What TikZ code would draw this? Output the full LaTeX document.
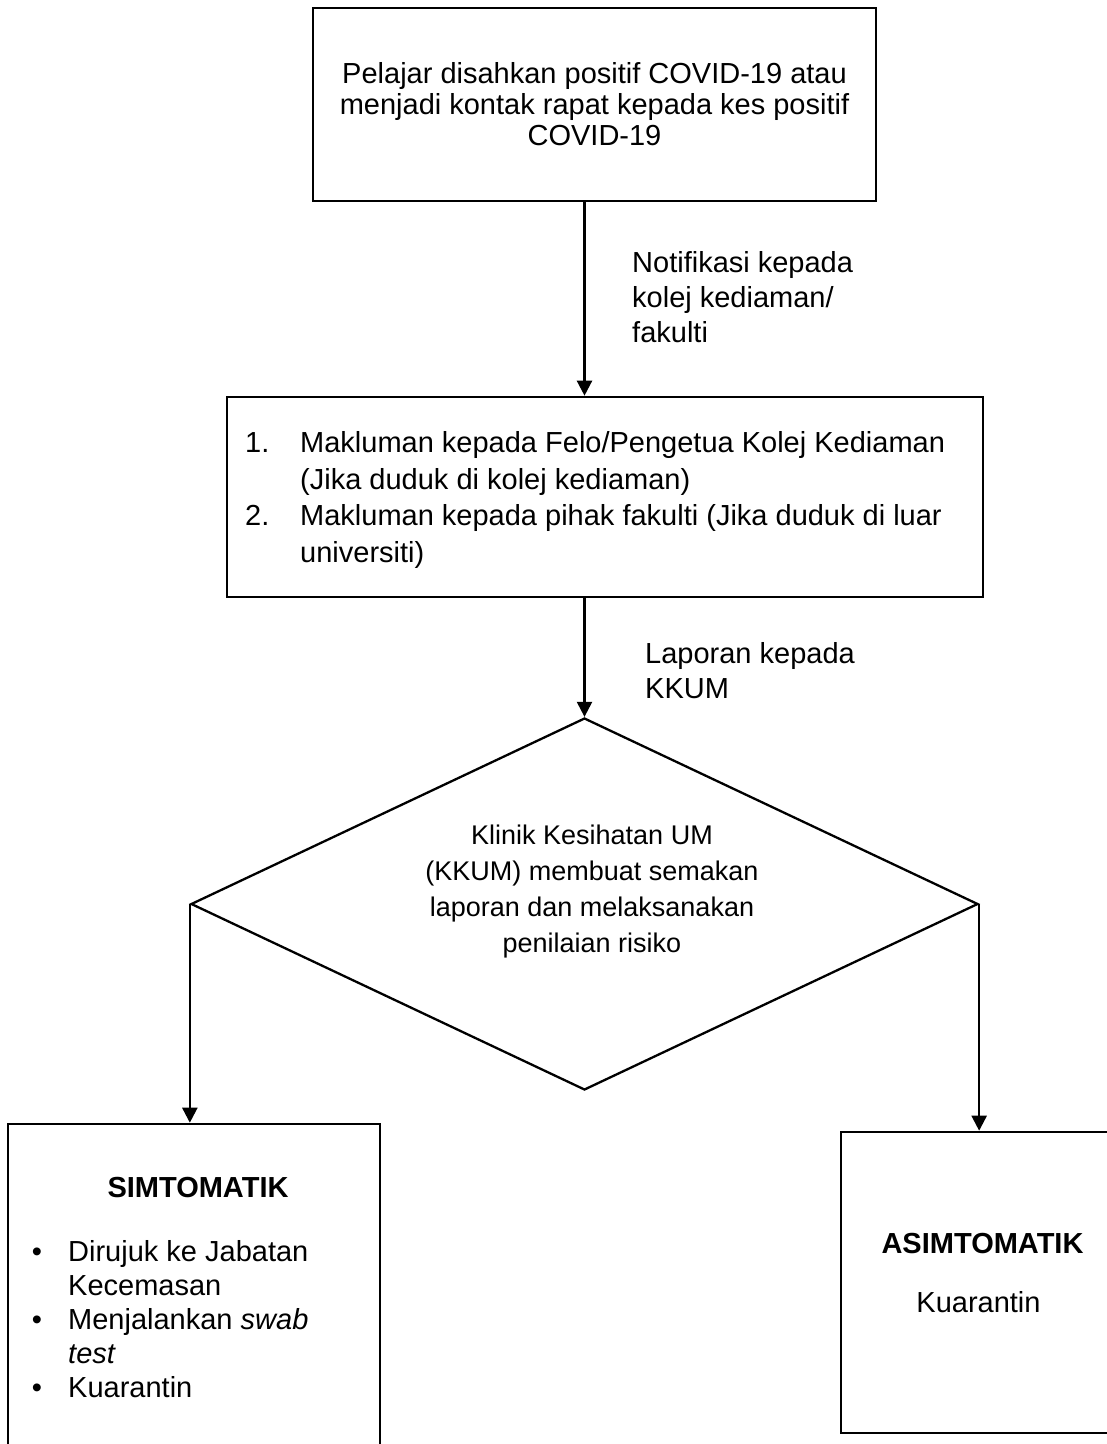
\documentclass[tikz,border=0pt]{standalone}
\usepackage{fontspec}
\setmainfont{Liberation Sans}
\usetikzlibrary{arrows.meta,shapes.geometric}
\begin{document}
\begin{tikzpicture}[x=1pt,y=-1pt,
  box/.style={draw, line width=2.6pt, rectangle, inner sep=0pt},
  arr/.style={line width=2.3pt, -{Triangle[length=15pt,width=15pt]}},
  txt/.style={font=\fontsize{29}{36.5}\selectfont, inner sep=0pt},
  lbl/.style={font=\fontsize{29}{35}\selectfont, inner sep=0pt, align=left, anchor=north west},
]
\useasboundingbox (0,0) rectangle (1107,1444);
\clip (0,0) rectangle (1107,1444);
\fill[white] (0,0) rectangle (1107,1444);

% top box
\node[box, minimum width=563pt, minimum height=193pt, align=center,
      font=\fontsize{29}{31}\selectfont] (top) at (594.5,104.5)
  {Pelajar disahkan positif COVID-19 atau\\menjadi kontak rapat kepada kes positif\\COVID-19};

% second box
\node[box, minimum width=756pt, minimum height=200pt] (b2) at (605,497) {};
\node[txt, anchor=base west] (n1) at (245,452.5) {1.};
\node[txt, anchor=base west] (l1a) at (300,452.5) {Makluman kepada Felo/Pengetua Kolej Kediaman};
\node[txt, anchor=base west] (l1b) at (300,489) {(Jika duduk di kolej kediaman)};
\node[txt, anchor=base west] (n2) at (245,525.5) {2.};
\node[txt, anchor=base west] (l2a) at (300,525.5) {Makluman kepada pihak fakulti (Jika duduk di luar};
\node[txt, anchor=base west] (l2b) at (300,562) {universiti)};

% diamond
\node[draw, diamond, line width=2.3pt, inner sep=0pt, aspect=2.12,
      minimum width=787pt, minimum height=372pt] (dia) at (584.5,904) {};
\node[inner sep=0pt, align=center, font=\fontsize{27}{36}\selectfont] (diatxt) at (592,892)
  {Klinik Kesihatan UM\\(KKUM) membuat semakan\\laporan dan melaksanakan\\penilaian risiko};

% labels
\node[lbl] (lab1) at (632,251) {Notifikasi kepada\\kolej kediaman/\\fakulti};
\node[lbl] (lab2) at (645,642) {Laporan kepada\\KKUM};

% bottom boxes
\node[box, minimum width=372pt, minimum height=346pt] (sl) at (194,1297) {};
\node[box, minimum width=271pt, minimum height=301pt] (as) at (976.5,1282.5) {};

\node[txt, font=\fontsize{29}{36}\bfseries] (simt) at (198,1188) {SIMTOMATIK};
\node[txt, anchor=base] (bu1) at (37,1261) {•};
\node[txt, anchor=base west] (s1a) at (68,1261) {Dirujuk ke Jabatan};
\node[txt, anchor=base west] (s1b) at (68,1295) {Kecemasan};
\node[txt, anchor=base] (bu2) at (37,1329) {•};
\node[txt, anchor=base west] (s2a) at (68,1329) {Menjalankan \textit{swab}};
\node[txt, anchor=base west] (s2b) at (68,1363) {\textit{test}};
\node[txt, anchor=base] (bu3) at (37,1397) {•};
\node[txt, anchor=base west] (s3) at (68,1397) {Kuarantin};

\node[txt, font=\fontsize{29}{36}\bfseries] (asimt) at (982.5,1243) {ASIMTOMATIK};
\node[txt] (kua) at (978.5,1302) {Kuarantin};

% connectors
\draw[arr] (top.south -| dia.north) -- (b2.north -| dia.north);
\draw[arr] (b2.south -| dia.north) -- (dia.north);
\draw[arr] (dia.west) -- (dia.west |- sl.north);
\draw[arr] (dia.east) -- (dia.east |- as.north);
\end{tikzpicture}
\end{document}
